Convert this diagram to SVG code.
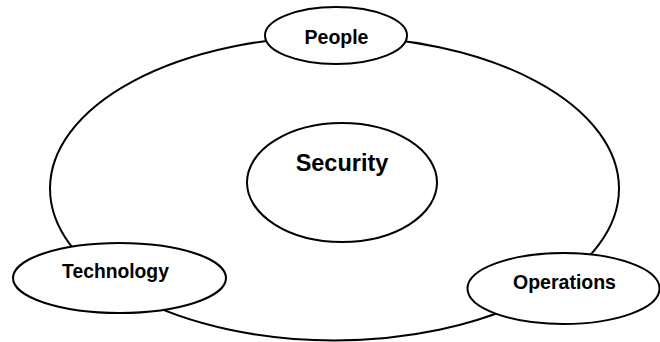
<svg xmlns="http://www.w3.org/2000/svg" width="660" height="342" viewBox="0 0 660 342">
<style>
.ring{fill:none;stroke:#000;stroke-width:2}
.node{fill:#fff;stroke:#000;stroke-width:2}
.lbl{font-family:"Liberation Sans",Arial,sans-serif;font-weight:bold;fill:#000;text-anchor:middle}
</style>
<rect width="660" height="342" fill="#fff"/>
<g id="connectors">
<ellipse class="ring" cx="334.5" cy="188.5" rx="284.5" ry="152"/>
</g>
<g id="security">
<ellipse class="node" cx="342" cy="182.5" rx="95" ry="59.5"/>
<text class="lbl" x="342" y="171" font-size="23.5">Security</text>
</g>
<g id="people">
<ellipse class="node" cx="336" cy="35.5" rx="71" ry="28.5"/>
<text class="lbl" x="336.5" y="44" font-size="19.5">People</text>
</g>
<g id="technology">
<ellipse class="node" cx="119.5" cy="278" rx="106.5" ry="35"/>
<text class="lbl" x="115.5" y="278" font-size="19.3">Technology</text>
</g>
<g id="operations">
<ellipse class="node" cx="563.5" cy="288.5" rx="96" ry="35.5"/>
<text class="lbl" x="564.5" y="289" font-size="19.5">Operations</text>
</g>
</svg>
